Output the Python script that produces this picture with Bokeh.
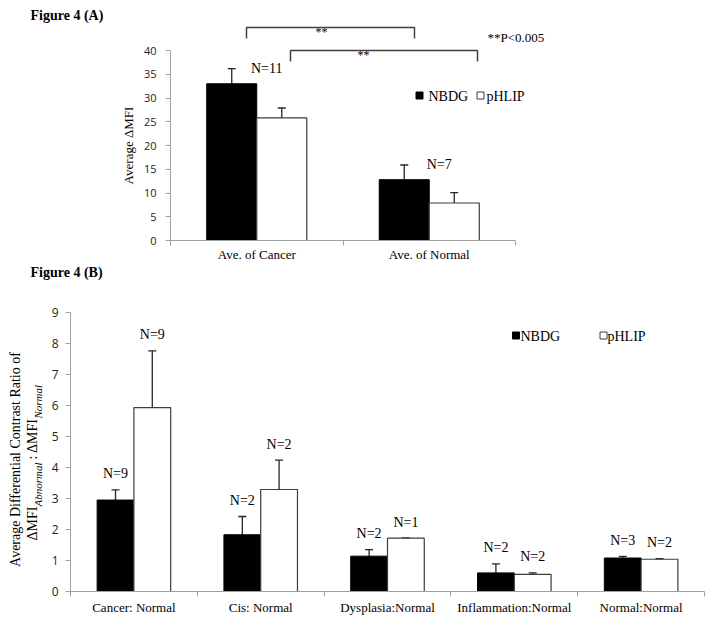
from math import pi
from bokeh.plotting import figure
from bokeh.layouts import column
from bokeh.models import ColumnDataSource, FixedTicker, Range1d, Whisker, TeeHead
from bokeh.core.properties import value
from bokeh.embed import file_html
from bokeh.resources import INLINE

# ---------------- data: panel A ----------------
cats_a = ["Ave. of Cancer", "Ave. of Normal"]
nbdg_a = [33.0, 12.8]
nbdg_a_err = [3.2, 3.1]
phlip_a = [25.8, 7.9]
phlip_a_err = [2.1, 2.2]
n_a = ["N=11", "N=7"]
yticks_a = [0, 5, 10, 15, 20, 25, 30, 35, 40]

# ---------------- data: panel B ----------------
cats_b = ["Cancer: Normal", "Cis: Normal", "Dysplasia:Normal",
          "Inflammation:Normal", "Normal:Normal"]
nbdg_b = [2.95, 1.83, 1.14, 0.60, 1.08]
nbdg_b_err = [0.33, 0.59, 0.21, 0.29, 0.05]
phlip_b = [5.93, 3.29, 1.72, 0.55, 1.04]
phlip_b_err = [1.83, 0.95, 0.0, 0.05, 0.02]
n_nbdg_b = ["N=9", "N=2", "N=2", "N=2", "N=3"]
n_phlip_b = ["N=9", "N=2", "N=1", "N=2", "N=2"]
yticks_b = [0, 1, 2, 3, 4, 5, 6, 7, 8, 9]

SERIF = "Liberation Serif"
SANS = "Open Sans"
AXIS_GRAY = "#a0a0a0"
EDGE = "#3c3c3c"
BW = 0.29  # bar width (fraction of a category)
W = 714    # page width (Bokeh's page has no body margin)


class Panel:
    """Figure whose frame fills the whole canvas; axes sit at fixed locations.
    Geometry given in page pixels: where x=0.5 / x=n+0.5 and y=0 / y=ymax fall."""

    def __init__(self, top, height, ncat, ymax, xpix, ypix):
        self.ncat, self.ymax = ncat, ymax
        self.x0p, self.x1p = xpix
        self.y0p, self.y1p = ypix
        self.kx = (self.x1p - self.x0p) / ncat
        self.ky = (self.y0p - self.y1p) / ymax
        p = figure(width=W, height=height, output_backend="svg", toolbar_location=None,
                   x_range=Range1d(self.X(0), self.X(W)),
                   y_range=Range1d(self.Y(top + height), self.Y(top)),
                   min_border=0, min_border_left=0, min_border_right=0,
                   min_border_top=0, min_border_bottom=0)
        p.outline_line_color = None
        p.grid.grid_line_color = None
        p.background_fill_color = "white"
        p.border_fill_color = "white"
        self.p = p

    def X(self, px):
        return 0.5 + (px - self.x0p) / self.kx

    def Y(self, py):
        return (self.y0p - py) / self.ky

    def axes(self, cats, yticks, ytick_size, xlab_standoff, ylab_standoff):
        p, n = self.p, self.ncat
        xa = p.xaxis[0]
        xa.fixed_location = 0
        xa.ticker = FixedTicker(ticks=list(range(1, n + 1)),
                                minor_ticks=[i + 0.5 for i in range(n + 1)])
        xa.bounds = (0.5, n + 0.5)
        xa.major_label_overrides = {i + 1: c for i, c in enumerate(cats)}
        xa.major_tick_out = 0
        xa.major_tick_in = 0
        xa.minor_tick_out = 5
        xa.minor_tick_in = 0
        xa.minor_tick_line_color = AXIS_GRAY
        xa.axis_line_color = AXIS_GRAY
        xa.major_label_text_font = SERIF
        xa.major_label_text_font_size = "13px"
        xa.major_label_text_color = "black"
        xa.major_label_standoff = xlab_standoff
        ya = p.yaxis[0]
        ya.fixed_location = 0.5
        ya.ticker = FixedTicker(ticks=yticks)
        ya.bounds = (yticks[0], yticks[-1])
        ya.major_tick_out = 5
        ya.major_tick_in = 0
        ya.minor_tick_line_color = None
        ya.major_tick_line_color = AXIS_GRAY
        ya.axis_line_color = AXIS_GRAY
        ya.major_label_text_font = SANS
        ya.major_label_text_font_size = ytick_size
        ya.major_label_text_color = "#222222"
        ya.major_label_standoff = ylab_standoff

    def bars(self, nb, nb_err, ph, ph_err, head):
        p, n = self.p, self.ncat
        xn = [i + 1 - BW / 2 for i in range(n)]
        xp = [i + 1 + BW / 2 for i in range(n)]
        p.vbar(x=xn, top=nb, width=BW, bottom=0, fill_color="black", line_color="black")
        p.vbar(x=xp, top=ph, width=BW, bottom=0, fill_color="white", line_color=EDGE,
               line_width=1.2)
        for xs, v, e in ((xn, nb, nb_err), (xp, ph, ph_err)):
            src = ColumnDataSource(dict(x=xs, upper=[a + b for a, b in zip(v, e)],
                                        lower=[a - b for a, b in zip(v, e)]))
            p.add_layout(Whisker(source=src, base="x", upper="upper", lower="lower",
                                 line_color="#262626", line_width=1.3,
                                 upper_head=TeeHead(size=head, line_color="#262626", line_width=1.3),
                                 lower_head=TeeHead(size=head, line_color="#262626", line_width=1.3)))
        return xn, xp

    def txt(self, pxs, pys, texts, size, align="left", baseline="middle", style="normal",
            angle=0.0, color="black", font=SERIF, **kw):
        self.p.text(x=[self.X(v) for v in pxs], y=[self.Y(v) for v in pys], text=texts,
                    text_font=value(font), text_font_size=size, text_font_style=style,
                    text_color=color, text_align=align, text_baseline=baseline,
                    angle=angle, **kw)


# ================= Panel A =================
A = Panel(top=0, height=264, ncat=len(cats_a), ymax=40, xpix=(170, 515), ypix=(240, 50))
A.axes(cats_a, yticks_a, "11px", 1, 9)
xn_a, xp_a = A.bars(nbdg_a, nbdg_a_err, phlip_a, phlip_a_err, 8)
pa = A.p

pa.text(x=[i + 1 for i in range(len(cats_a))],
        y=[a + b for a, b in zip(nbdg_a, nbdg_a_err)], text=n_a,
        text_font=value(SERIF), text_font_size="14px", text_color="black",
        text_align="center", text_baseline="middle", x_offset=10, y_offset=0)

# significance brackets
pa.multi_line(xs=[[A.X(246), A.X(246), A.X(414), A.X(414)],
                  [A.X(290), A.X(290), A.X(477), A.X(477)]],
              ys=[[A.Y(38), A.Y(27), A.Y(27), A.Y(38)],
                  [A.Y(61), A.Y(50), A.Y(50), A.Y(61)]],
              line_color="#404040", line_width=1.5)
A.txt([321, 363], [31, 54], ["**", "**"], "12px", align="center", baseline="alphabetic")
A.txt([487], [37], ["**P<0.005"], "13px")

# legend
pa.scatter(x=[A.X(419), A.X(480)], y=[A.Y(95), A.Y(95)], marker="square", size=7,
           fill_color=["black", "white"], line_color=["black", EDGE])
A.txt([428, 486], [96, 96], ["NBDG", "pHLIP"], "14px")

A.txt([30], [15], ["Figure 4 (A)"], "14px", style="bold")
A.txt([128], [145], ["Average \u0394MFI"], "13px", align="center", angle=pi / 2)

# ================= Panel B =================
B = Panel(top=264, height=357, ncat=len(cats_b), ymax=9, xpix=(70, 704), ypix=(591, 312))
B.axes(cats_b, yticks_b, "12px", 3, 7)
xn_b, xp_b = B.bars(nbdg_b, nbdg_b_err, phlip_b, phlip_b_err, 8)
pb = B.p

pb.text(x=xn_b + xp_b,
        y=[a + b for a, b in zip(nbdg_b, nbdg_b_err)] + [a + b for a, b in zip(phlip_b, phlip_b_err)],
        text=n_nbdg_b + n_phlip_b, text_font=value(SERIF), text_font_size="14px",
        text_color="black", text_align="center", text_baseline="middle", y_offset=-16)

pb.scatter(x=[B.X(515.5), B.X(603)], y=[B.Y(335), B.Y(335)], marker="square", size=7,
           fill_color=["black", "white"], line_color=["black", EDGE])
B.txt([520, 607], [336, 336], ["NBDG", "pHLIP"], "14px")

B.txt([30], [272], ["Figure 4 (B)"], "14px", style="bold")
B.txt([15], [452], ["Average  Differential  Contrast  Ratio  of"], "14px",
      align="center", angle=pi / 2)
# second line with italic subscripts, built bottom-to-top
B.txt([32], [540], ["\u0394MFI"], "14px", angle=pi / 2)
B.txt([37], [506], ["Abnormal"], "11px", style="italic", angle=pi / 2)
B.txt([32], [459], [": \u0394MFI"], "14px", angle=pi / 2)
B.txt([37], [418], ["Normal"], "11px", style="italic", angle=pi / 2)

layout = column(pa, pb, spacing=0)
open("out.html", "w").write(file_html(layout, INLINE))
